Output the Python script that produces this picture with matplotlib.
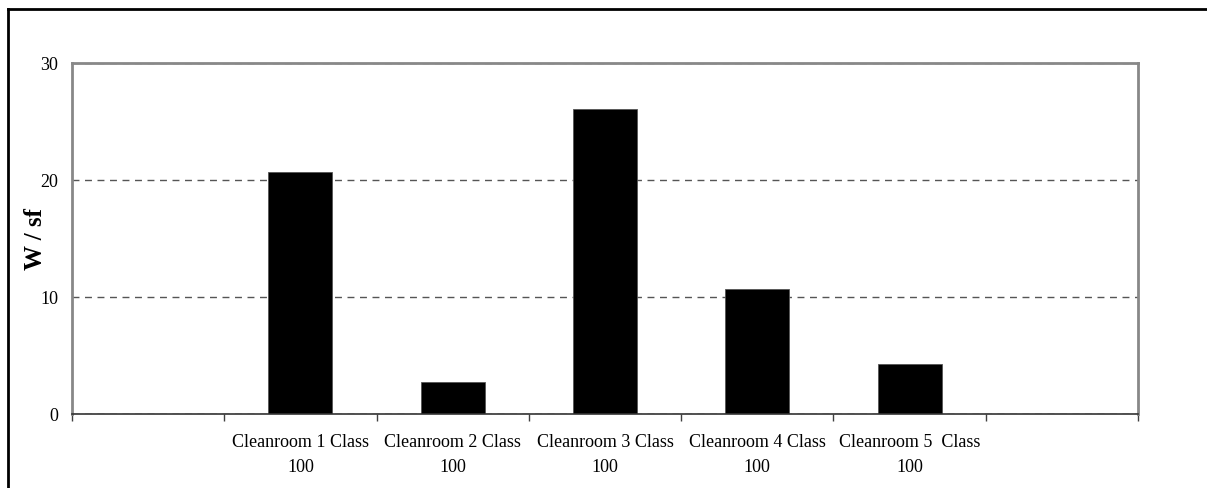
import matplotlib.pyplot as plt
from matplotlib.lines import Line2D

# Дані діаграми
categories = ["", "Cleanroom 1 Class\n100", "Cleanroom 2 Class\n100",
              "Cleanroom 3 Class\n100", "Cleanroom 4 Class\n100",
              "Cleanroom 5  Class\n100", ""]
values = [0, 20.6, 2.7, 26.0, 10.6, 4.2, 0]
yTicks = [0, 10, 20, 30]

plt.rcParams['font.family'] = ['Liberation Serif', 'DejaVu Serif']

fig = plt.figure(figsize=(12.07, 4.89), dpi=100)
ax = fig.add_axes([72 / 1207, 1 - 414.5 / 489, (1138 - 72) / 1207, (414.5 - 63.5) / 489])

xPos = list(range(len(categories)))
ax.bar(xPos, values, width=0.42, color="black", edgecolor="#555555", linewidth=0.6, zorder=3)

ax.set_xlim(-0.5, len(categories) - 0.5)
ax.set_ylim(0, 30)

# Поділки на межах категорій, підписи по центру
ax.set_xticks([i - 0.5 for i in range(len(categories) + 1)])
ax.set_xticklabels([])
ax.set_xticks(xPos, minor=True)
ax.set_xticklabels(categories, minor=True, fontsize=13, linespacing=1.6)
ax.tick_params(axis="x", which="major", direction="out", length=5, width=1, color="#404040")
ax.tick_params(axis="x", which="minor", length=0, pad=14)

ax.set_yticks(yTicks)
ax.set_yticklabels([str(v) for v in yTicks], fontsize=13)
ax.tick_params(axis="y", length=0, pad=10)

ax.set_ylabel("W / sf", fontsize=18, fontweight="bold")
ax.yaxis.set_label_coords(-25 / 1066, 0.5)

ax.yaxis.grid(True, linestyle=(0, (5, 4)), color="#555555", linewidth=1, zorder=1)
ax.set_axisbelow(True)

for side in ["left", "top", "right"]:
    ax.spines[side].set_color("#888888")
    ax.spines[side].set_linewidth(2)
ax.spines["bottom"].set_color("#333333")
ax.spines["bottom"].set_linewidth(1.2)
ax.spines["bottom"].set_zorder(4)

# Зовнішня рамка (ліва і верхня лінії)
fig.add_artist(Line2D([7.5 / 1207, 7.5 / 1207], [0, 1 - 10 / 489], color="black", linewidth=2, transform=fig.transFigure))
fig.add_artist(Line2D([7.5 / 1207, 1], [1 - 10 / 489, 1 - 10 / 489], color="black", linewidth=2, transform=fig.transFigure))

fig.savefig("out.png", dpi=100)
